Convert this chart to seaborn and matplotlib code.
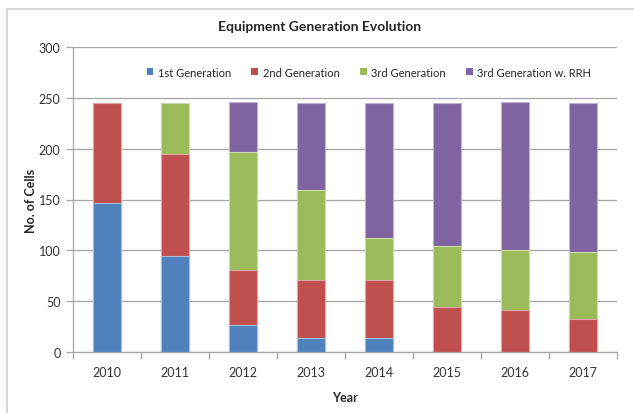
import matplotlib
matplotlib.use("Agg")
import matplotlib.pyplot as plt
import seaborn as sns
import numpy as np
import pandas as pd
from matplotlib.patches import Rectangle, Patch

years = ["2010", "2011", "2012", "2013", "2014", "2015", "2016", "2017"]
gen1 = [147, 94, 27, 14, 14, 0, 0, 0]
gen2 = [98, 101, 54, 57, 57, 44, 41, 32]
gen3 = [0, 50, 116, 88, 41, 60, 59, 66]
gen3_rrh = [0, 0, 49, 86, 133, 141, 146, 147]
series_names = ["1st Generation", "2nd Generation", "3rd Generation", "3rd Generation w. RRH"]
colors = ["#4F81BD", "#C0504D", "#9BBB59", "#8064A2"]
edges = ["#A7C0DE", "#E0A8A6", "#CDDDAC", "#BFB1D0"]

sns.set_theme(style="white")
plt.rcParams['font.family'] = ['Lato', 'DejaVu Sans']

df = pd.DataFrame({"Year": years, series_names[0]: gen1, series_names[1]: gen2,
                   series_names[2]: gen3, series_names[3]: gen3_rrh})
cum = df[series_names].cumsum(axis=1)

fig = plt.figure(figsize=(6.34, 4.14), dpi=100)
ax = fig.add_axes([73/634, 1-353/414, (617-73)/634, (353-48)/414])

# chart border
fig.patches.append(Rectangle((7/634, -0.05), 1.0, 1-10/414+0.05, transform=fig.transFigure,
                             fill=False, edgecolor="#D0D0D0", linewidth=1.2, zorder=0))

for i in range(3, -1, -1):
    name = series_names[i]
    sns.barplot(data=pd.DataFrame({"Year": years, "v": cum[name]}), x="Year", y="v",
                color=colors[i], width=0.41, ax=ax, saturation=1,
                edgecolor=edges[i], linewidth=0.8, zorder=3)

ax.set_ylim(0, 300)
ax.set_xlim(-0.5, 7.5)
ax.set_yticks(range(0, 301, 50))
ax.yaxis.grid(True, color="#A6A6A6", linewidth=0.9, zorder=0)
ax.set_axisbelow(True)
for s in ["top", "right"]:
    ax.spines[s].set_visible(False)
for s in ["left", "bottom"]:
    ax.spines[s].set_color("#A6A6A6")
    ax.spines[s].set_linewidth(0.9)
ax.tick_params(axis="y", which="major", length=5, width=0.9, color="#A6A6A6",
               labelsize=9, labelcolor="#333333", pad=4, left=True)
ax.set_xticks(np.arange(len(years)))
ax.set_xticklabels(years)
ax.set_xticks(np.arange(-0.5, len(years), 1.0), minor=True)
ax.tick_params(axis="x", which="major", length=0, labelsize=9, labelcolor="#333333", pad=10)
ax.tick_params(axis="x", which="minor", length=5, width=0.9, color="#A6A6A6", bottom=True)

ax.set_xlabel("Year", fontsize=9, fontweight="bold", labelpad=9.5)
ax.set_ylabel("No. of Cells", fontsize=9, fontweight="bold", labelpad=1)
fig.text(320/634, 1-27/414, "Equipment Generation Evolution", ha="center", va="center",
         fontsize=10, fontweight="bold")

handles = [Patch(facecolor=colors[i], edgecolor="none") for i in range(4)]
ax.legend(handles, series_names, loc="center", bbox_to_anchor=(0.544, 0.918), ncol=4,
          frameon=False, fontsize=8, handlelength=0.6, handleheight=0.6,
          handletextpad=0.4, columnspacing=1.85)

fig.savefig("out.png", dpi=100)
